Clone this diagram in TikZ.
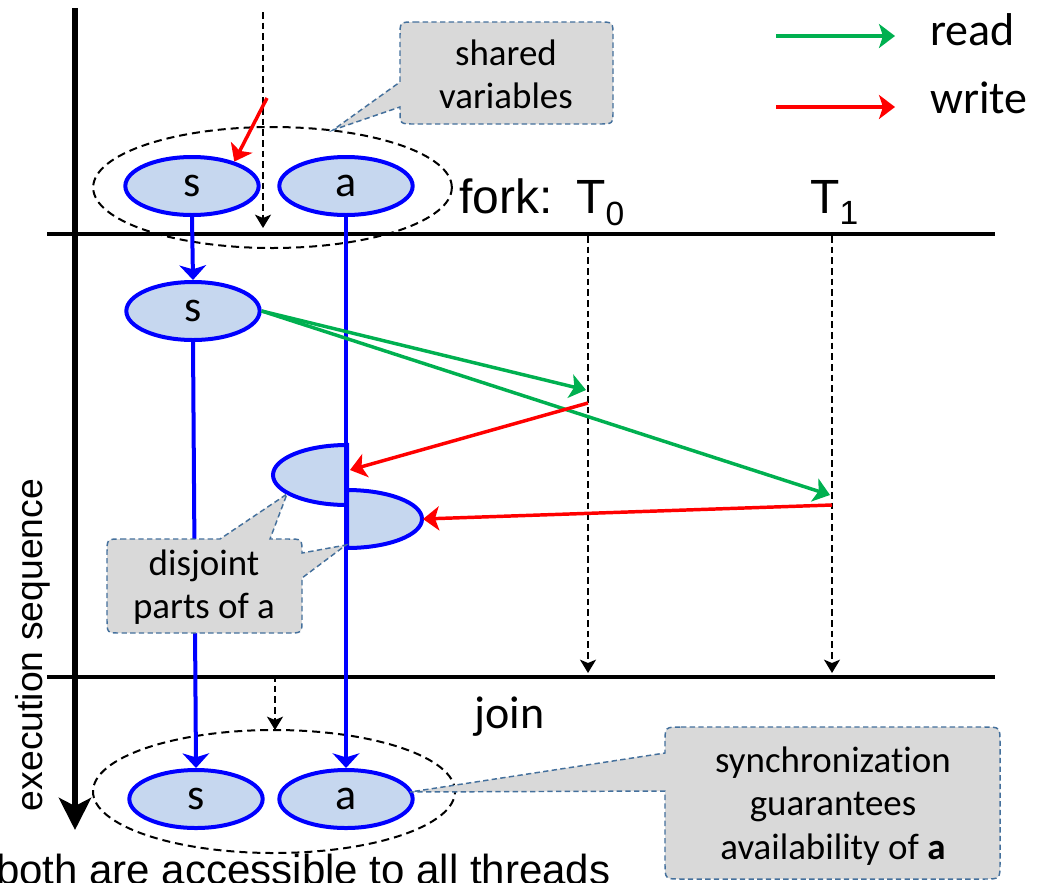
\documentclass[tikz,border=0pt]{standalone}
\usepackage{fontspec}
\setmainfont{Liberation Sans}
\newfontfamily\calfont[Ligatures={NoCommon}]{Carlito}
\usetikzlibrary{arrows.meta,shapes.geometric}

\definecolor{vblue}{HTML}{0000FF}
\definecolor{vfill}{HTML}{C6D7EF}
\definecolor{rgreen}{HTML}{00B050}
\definecolor{wred}{HTML}{FF0000}
\definecolor{nfill}{HTML}{D9D9D9}
\definecolor{nborder}{HTML}{44709C}

\begin{document}
\begin{tikzpicture}[x=0.75pt,y=-0.75pt,
  var/.style={ellipse, draw=vblue, line width=3pt, fill=vfill,
    minimum width=100pt, minimum height=43.5pt, inner sep=0pt,
    font=\calfont\fontsize{33}{36}\selectfont},
  group/.style={draw=black, line width=1.5pt, dash pattern=on 6pt off 3.75pt},
  flow/.style={vblue, line width=3pt, -{Stealth[length=11pt,width=20pt,inset=3pt]}},
  thread/.style={black, line width=1.4pt, dash pattern=on 5pt off 3pt,
    -{Stealth[length=10pt,width=12pt,inset=2.5pt]}},
  readarrow/.style={rgreen, line width=2.6pt, -{Stealth[length=12pt,width=18pt,inset=3pt]}},
  writearrow/.style={wred, line width=2.6pt, -{Stealth[length=12pt,width=18pt,inset=3pt]}},
  barline/.style={black, line width=3pt},
  part/.style={draw=vblue, line width=3pt, fill=vfill},
  note/.style={draw=nborder, fill=nfill, line width=1.1pt, dash pattern=on 4pt off 2.5pt},
  notetext/.style={align=center, inner sep=0pt, font=\calfont\fontsize{27.7}{32.5}\selectfont},
  arial/.style={inner sep=0pt, font=\fontsize{36}{40}\selectfont},
  cal/.style={inner sep=0pt, font=\calfont\fontsize{34.5}{38}\selectfont}
]
\useasboundingbox (0,0) rectangle (1044,882);

% time axis
\coordinate (axtop) at (75,8);
\coordinate (axbot) at (75,830);
\draw[line width=4.5pt, -{Stealth[length=24pt,width=24pt,inset=6pt]}] (axtop) -- (axbot);
\node[rotate=90, inner sep=0pt, font=\fontsize{28}{32}\selectfont] (exec) at (33,645) {execution sequence};

% fork and join bars
\coordinate (forkL) at (47,234);
\coordinate (forkR) at (995,234);
\coordinate (joinL) at (47,677);
\coordinate (joinR) at (995,677);
\draw[barline] (forkL) -- (forkR);
\draw[barline] (joinL) -- (joinR);

\node[arial, anchor=base west] (fork) at (459,213) {fork:};
\node[arial, anchor=base west] (T0) at (576,213) {T\textsubscript{0}};
\node[arial, anchor=base west] (T1) at (810,213) {T\textsubscript{1}};
\node[cal, anchor=base west] (join) at (474,728) {join};

% groups of shared variables
\node[group, ellipse, minimum width=269pt, minimum height=90.75pt, inner sep=0pt] (grpA) at (272.5,187.5) {};
\node[group, ellipse, minimum width=271.5pt, minimum height=92.25pt, inner sep=0pt] (grpB) at (274,791.5) {};

% main thread before the fork and after the join
\coordinate (mainTop) at (263,12);
\coordinate (mainFork) at (263,228);
\draw[thread] (mainTop) -- (mainFork);
\coordinate (mainJoin) at (275,675);
\coordinate (mainEnd) at (275,730);
\draw[thread] (mainJoin) -- (mainEnd);

% variables
\node[var] (s1) at (192,186) {s};
\node[var] (a1) at (346,186) {a};
\node[var] (s2) at (193,311) {s};
\node[var] (s3) at (196,799) {s};
\node[var] (a3) at (346,799) {a};

\coordinate (wtop) at (267,98);
\draw[writearrow] (wtop) -- (s1.30);

% disjoint parts of a
\draw[part] (347,445) arc[start angle=270, end angle=90, x radius=74, y radius=30] -- cycle;
\draw[part] (347,490) arc[start angle=270, end angle=450, x radius=75, y radius=29] -- cycle;

% variable lifetimes
\draw[flow] (s1.south) -- (s2.north);
\draw[flow] (s2.south) -- (s3.north);
\draw[flow] (a1.south) -- (a3.north);

% threads
\coordinate (t0top) at (588,236);
\coordinate (t0bot) at (588,673);
\coordinate (t1top) at (832,236);
\coordinate (t1bot) at (832,673);
\draw[thread] (t0top) -- (t0bot);
\draw[thread] (t1top) -- (t1bot);

% accesses
\coordinate (r0) at (586,390);
\coordinate (r1) at (830,495);
\coordinate (w0) at (588,403);
\coordinate (w1) at (832,505);
\coordinate (p0) at (350,470);
\coordinate (p1) at (423,519);
\draw[readarrow] (s2.east) -- (r0);
\draw[readarrow] (s2.east) -- (r1);
\draw[writearrow] (w0) -- (p0);
\draw[writearrow] (w1) -- (p1);

% legend
\coordinate (lr0) at (776,36);
\coordinate (lr1) at (895,36);
\coordinate (lw0) at (776,107);
\coordinate (lw1) at (895,107);
\draw[readarrow] (lr0) -- (lr1);
\draw[writearrow] (lw0) -- (lw1);
\node[cal, anchor=base west] (read) at (930,45) {read};
\node[cal, anchor=base west] (write) at (930,113) {write};

% callouts
\coordinate (tipA) at (333,130);
\draw[note] (414,22) -- (599,22) .. controls (613,22) .. (613,36) -- (613,110)
  .. controls (613,124) .. (599,124) -- (414,124) .. controls (400,124) .. (400,110)
  -- (400,107) -- (tipA) -- (400,82) -- (400,36) .. controls (400,22) .. (414,22) -- cycle;
\node[notetext] (shared) at (506,74) {shared\\variables};

\coordinate (tipB1) at (287,494);
\coordinate (tipB2) at (346,545);
\draw[note] (121,539) -- (220,539) -- (tipB1) -- (270,539) -- (288,539)
  .. controls (302,539) .. (302,553) -- (tipB2) -- (302,578) -- (302,619)
  .. controls (302,633) .. (288,633) -- (121,633) .. controls (107,633) .. (107,619)
  -- (107,553) .. controls (107,539) .. (121,539) -- cycle;
\node[notetext] (disjoint) at (204,587) {disjoint\\parts of a};

\coordinate (tipC) at (410,792);
\draw[note] (681,727) -- (984,727) .. controls (1000,727) .. (1000,743) -- (1000,863)
  .. controls (1000,879) .. (984,879) -- (681,879) .. controls (665,879) .. (665,863)
  -- (665,791) -- (tipC) -- (665,753) -- (665,743) .. controls (665,727) .. (681,727) -- cycle;
\node[notetext] (sync) at (833,806) {synchronization\\guarantees\\availability of \textbf{a}};

\node[inner sep=0pt, anchor=base west, font=\fontsize{31.5}{36}\selectfont] (both) at (-4,884) {both are accessible to all threads};
\end{tikzpicture}
\end{document}
